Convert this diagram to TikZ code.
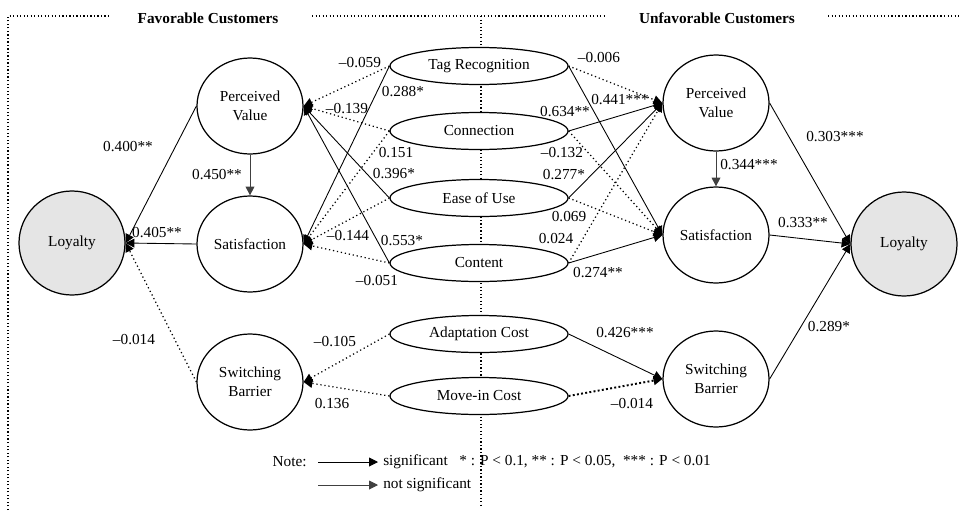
\documentclass[tikz,border=0pt]{standalone}
\usepackage{fontspec}
\setmainfont{Liberation Serif}
\usetikzlibrary{shapes.geometric,arrows.meta}

\begin{document}
\begin{tikzpicture}[x=0.2mm,y=-0.2mm,
    font=\fontsize{8.7}{10.8}\selectfont,
    circ/.style={draw,line width=0.7pt,ellipse,minimum width=21.2mm,minimum height=19.2mm,inner sep=0pt,align=center,fill=white},
    loy/.style={circ,minimum height=20.8mm,fill=black!10},
    oval/.style={draw,line width=0.7pt,ellipse,minimum width=35.6mm,minimum height=7.4mm,inner sep=0pt,fill=white},
    sig/.style={line width=0.5pt,-{Triangle[length=5pt,width=5pt]}},
    ns/.style={sig,line width=0.7pt,dash pattern=on 0.7pt off 1.6pt},
    frame/.style={line width=0.7pt,dash pattern=on 0.7pt off 1.3pt},
    lab/.style={inner sep=0pt}]
        \useasboundingbox (0,0) rectangle (964,510);
        %%%FRAME%%%
        \draw[frame] (8,510)--(8,16)--(110,16);
        \draw[frame] (312,16)--(605,16);
        \draw[frame] (828,16)--(960,16);
        \draw[frame] (481,16)--(481,505);
        \node[font=\fontsize{8.7}{10}\selectfont\bfseries] (fav) at (208,18) {Favorable Customers};
        \node[font=\fontsize{8.7}{10}\selectfont\bfseries] (unfav) at (717,18) {Unfavorable Customers};
        %%%CONSTRUCTS%%%
        \node[loy] (lloy) at (72,243) {Loyalty};
        \node[circ] (lpv) at (250,106) {Perceived\\Value};
        \node[circ] (lsat) at (250,244) {Satisfaction};
        \node[circ] (lsb) at (250,382) {Switching\\Barrier};
        \node[loy] (rloy) at (904,244) {Loyalty};
        \node[circ] (rpv) at (716,103) {Perceived\\Value};
        \node[circ] (rsat) at (716,235) {Satisfaction};
        \node[circ] (rsb) at (716,379) {Switching\\Barrier};
        %middle
        \node[oval] (tag) at (479,66) {Tag Recognition};
        \node[oval] (conn) at (479,131) {Connection};
        \node[oval] (ease) at (479,198) {Ease of Use};
        \node[oval] (cont) at (479,263) {Content};
        \node[oval] (adapt) at (479,334) {Adaptation Cost};
        \node[oval] (movein) at (479,396) {Move-in Cost};
        %%%FAVORABLE%%%
        \draw[sig] (lpv.west)--(lloy.east);
        \draw[sig] (lsat.west)--(lloy.east);
        \draw[ns] (lsb.west)--(lloy.east);
        \draw[sig,black!75] (lpv.south)--(lsat.north);
        \draw[ns] (tag.west)--(lpv.east);
        \draw[sig] (tag.west)--(lsat.east);
        \draw[ns] (conn.west)--(lpv.east);
        \draw[ns] (conn.west)--(lsat.east);
        \draw[sig] (ease.west)--(lpv.east);
        \draw[ns] (ease.west)--(lsat.east);
        \draw[sig] (cont.west)--(lpv.east);
        \draw[ns] (cont.west)--(lsat.east);
        \draw[ns] (adapt.west)--(lsb.east);
        \draw[ns] (movein.west)--(lsb.east);
        %%%UNFAVORABLE%%%
        \draw[ns] (tag.east)--(rpv.west);
        \draw[sig] (tag.east)--(rsat.west);
        \draw[sig] (conn.east)--(rpv.west);
        \draw[ns] (conn.east)--(rsat.west);
        \draw[sig] (ease.east)--(rpv.west);
        \draw[ns] (ease.east)--(rsat.west);
        \draw[ns] (cont.east)--(rpv.west);
        \draw[sig] (cont.east)--(rsat.west);
        \draw[sig] (adapt.east)--(rsb.west);
        \draw[ns,line width=1.1pt,dash pattern=on 1.1pt off 1.3pt] (movein.east)--(rsb.west);
        \draw[sig,black!75] (rpv.south)--(rsat.north);
        \draw[sig] (rpv.east)--(rloy.west);
        \draw[sig] (rsat.east)--(rloy.west);
        \draw[sig] (rsb.east)--(rloy.west);
        %%%COEFFICIENTS%%%
        \node[lab] (c1) at (128,147) {0.400**};
        \node[lab] (c2) at (157,233) {0.405**};
        \node[lab] (c3) at (134,340) {--0.014};
        \node[lab] (c4) at (217,175) {0.450**};
        \node[lab] (c5) at (360,63) {--0.059};
        \node[lab] (c6) at (403,92) {0.288*};
        \node[lab] (c7) at (347,109) {--0.139};
        \node[lab] (c8) at (396,153) {0.151};
        \node[lab] (c9) at (394,174) {0.396*};
        \node[lab] (c10) at (348,236) {--0.144};
        \node[lab] (c11) at (402,241) {0.553*};
        \node[lab] (c12) at (377,281) {--0.051};
        \node[lab] (c13) at (335,342) {--0.105};
        \node[lab] (c14) at (332,404) {0.136};
        \node[lab] (c15) at (599,58) {--0.006};
        \node[lab] (c16) at (620,100) {0.441***};
        \node[lab] (c17) at (565,112) {0.634**};
        \node[lab] (c18) at (562,153) {--0.132};
        \node[lab] (c19) at (564,175) {0.277*};
        \node[lab] (c20) at (569,217) {0.069};
        \node[lab] (c21) at (556,239) {0.024};
        \node[lab] (c22) at (598,273) {0.274**};
        \node[lab] (c23) at (625,333) {0.426***};
        \node[lab] (c24) at (632,404) {--0.014};
        \node[lab] (c25) at (749,165) {0.344***};
        \node[lab] (c26) at (835,137) {0.303***};
        \node[lab] (c27) at (803,223) {0.333**};
        \node[lab] (c28) at (829,327) {0.289*};
        %%%NOTE%%%
        \node[lab,anchor=east] (note) at (307,462) {Note:};
        \coordinate (s1) at (318,462);
        \coordinate (s2) at (318,485);
        \node[lab,anchor=west,inner xsep=2.8pt] (sigtxt) at (378,462) {significant \ \ * : P < 0.1, ** : P < 0.05, \ *** : P < 0.01};
        \node[lab,anchor=west,inner xsep=2.8pt] (nstxt) at (378,485) {not significant};
        \draw[sig] (s1)--(sigtxt.west);
        \draw[sig,black!75] (s2)--(nstxt.west);
    \end{tikzpicture}
\end{document}
